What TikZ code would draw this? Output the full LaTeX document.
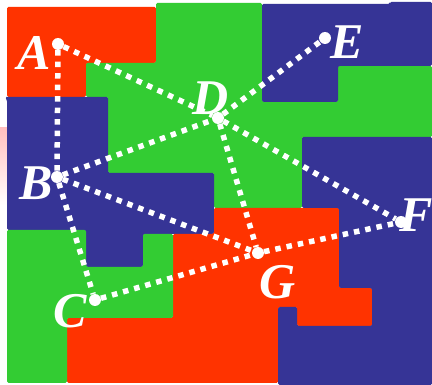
\documentclass[tikz,border=0pt]{standalone}
\usepackage{fontspec}
\setmainfont{Liberation Serif}
\definecolor{mred}{RGB}{255,51,0}
\definecolor{mgreen}{RGB}{51,204,51}
\definecolor{mblue}{RGB}{54,52,150}
\begin{document}
\begin{tikzpicture}[x=1pt,y=-1pt,
  region/.style={rounded corners=1.5pt},
  vdot/.style={circle,fill=white,inner sep=0pt,minimum size=12pt},
  lbl/.style={text=white,inner sep=0pt,font=\fontsize{50}{50}\selectfont\bfseries\itshape},
  link/.style={white,line width=5.5pt,dash pattern=on 5.5pt off 6pt}]
\useasboundingbox (0,0) rectangle (432,385);
\fill[white] (0,0) rectangle (432,385);
\shade[top color=red!25,bottom color=white] (0,128) rectangle (8,205);
% regions
\fill[mred,region] (7,7) -- (156,7) -- (156,63) -- (86,63) -- (86,97) -- (7,97) -- cycle;
\fill[mgreen,region] (156,3) -- (262,3) -- (262,102) -- (338,102) -- (338,66) -- (432,66) -- (432,137) -- (302,137) -- (302,208) -- (214,208) -- (214,173) -- (108,173) -- (108,97) -- (86,97) -- (86,63) -- (156,63) -- cycle;
\fill[mblue,region] (262,4) -- (390,4) -- (390,2) -- (432,2) -- (432,66) -- (338,66) -- (338,102) -- (262,102) -- cycle;
\fill[mblue,region] (5,97) -- (108,97) -- (108,173) -- (214,173) -- (214,234) -- (143,234) -- (143,267) -- (86,267) -- (86,230) -- (7,230) -- (7,100) -- cycle;
\fill[mred,region] (214,208) -- (339,208) -- (339,288) -- (372,288) -- (372,326) -- (297,326) -- (297,307) -- (278,307) -- (278,383) -- (67,383) -- (67,318) -- (173,318) -- (173,234) -- (214,234) -- cycle;
\fill[mgreen,region] (7,230) -- (86,230) -- (86,267) -- (143,267) -- (143,234) -- (173,234) -- (173,318) -- (67,318) -- (67,383) -- (7,383) -- cycle;
\fill[mblue,region] (302,137) -- (432,137) -- (432,385) -- (278,385) -- (278,307) -- (297,307) -- (297,326) -- (372,326) -- (372,288) -- (339,288) -- (339,208) -- (302,208) -- cycle;
% vertices
\node[vdot] (A) at (58,44) {};
\node[vdot] (B) at (57,177) {};
\node[vdot] (C) at (95,300) {};
\node[vdot] (D) at (218,118) {};
\node[vdot] (E) at (325,38) {};
\node[vdot] (F) at (401,222) {};
\node[vdot] (G) at (258,253) {};
% edges
\draw[link] (A) -- (D);
\draw[link] (A) -- (B);
\draw[link] (B) -- (D);
\draw[link] (B) -- (C);
\draw[link] (B) -- (G);
\draw[link] (D) -- (E);
\draw[link] (D) -- (G);
\draw[link] (D) -- (F);
\draw[link] (C) -- (G);
\draw[link] (G) -- (F);
% labels
\node[lbl] (lA) at (34,53) {A};
\node[lbl] (lB) at (36,183) {B};
\node[lbl] (lC) at (70,311) {C};
\node[lbl] (lD) at (211,98) {D};
\node[lbl] (lE) at (347,42) {E};
\node[lbl] (lF) at (416,215) {F};
\node[lbl] (lG) at (278,282) {G};
\end{tikzpicture}
\end{document}
